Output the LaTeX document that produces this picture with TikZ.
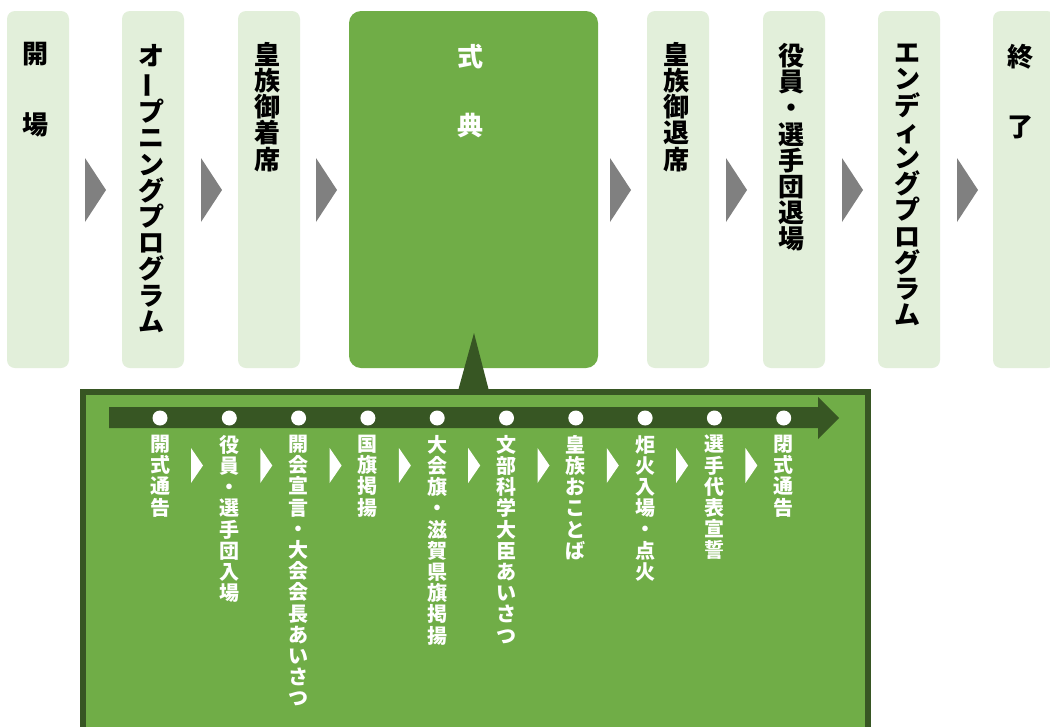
\documentclass[tikz,border=0pt]{standalone}
\usepackage{fontspec}
\newfontfamily\jp{Noto Sans CJK JP}
\definecolor{lg}{HTML}{E2EFDA}
\definecolor{mg}{HTML}{70AD47}
\definecolor{dg}{HTML}{375623}
\definecolor{ga}{HTML}{808080}
\newcommand{\vbar}{\rotatebox[origin=c]{90}{ー}}
\tikzset{
  stage/.style={fill=lg, draw=none, rounded corners=8pt, anchor=north west,
    minimum width=62pt, minimum height=357pt, inner sep=0pt, outer sep=0pt},
  mainstage/.style={fill=mg, draw=none, rounded corners=12pt, anchor=north west,
    minimum width=249pt, minimum height=357pt, inner sep=0pt, outer sep=0pt},
  toptext/.style={font=\jp\bfseries\fontsize{26}{26.2}\selectfont, align=center,
    anchor=north, inner sep=0pt, text=black},
  single/.style={font=\jp\bfseries\fontsize{26}{26.2}\selectfont, inner sep=0pt},
  subtext/.style={font=\jp\bfseries\fontsize{20}{21.2}\selectfont, align=center,
    anchor=north, inner sep=0pt, text=white},
  grayarrow/.style={fill=ga},
  whitearrow/.style={fill=white},
  panel/.style={draw=dg, line width=6pt, fill=mg, anchor=north west,
    minimum width=785pt, minimum height=380pt, inner sep=0pt, outer sep=0pt},
  dot/.style={circle, fill=white, minimum size=15pt, inner sep=0pt},
}
\begin{document}
\begin{tikzpicture}[x=1pt,y=-1pt]
\clip (0,0) rectangle (1050,726);
\fill[white] (0,0) rectangle (1050,726);
% top stages
\node[stage] (b1) at (7,11) {};
\node[stage] (b2) at (122,11) {};
\node[stage] (b3) at (238,11) {};
\node[mainstage] (b4) at (349,11) {};
\node[stage] (b5) at (647,11) {};
\node[stage] (b6) at (763,11) {};
\node[stage] (b7) at (878,11) {};
\node[stage] (b8) at (993,11) {};
% top texts
\node[single] (t1a) at (35,54) {開};
\node[single] (t1b) at (35,125) {場};
\node[toptext] (t2) at (151,44) {オ\\\vbar\\プ\\ニ\\ン\\グ\\プ\\ロ\\グ\\ラ\\ム};
\node[toptext] (t3) at (267,42) {皇\\族\\御\\着\\席};
\node[single, text=white] (t4a) at (470,57) {式};
\node[single, text=white] (t4b) at (470,126) {典};
\node[toptext] (t5) at (676,42) {皇\\族\\御\\退\\席};
\node[toptext] (t6) at (791,43) {役\\員\\・\\選\\手\\団\\退\\場};
\node[toptext] (t7) at (907,44) {エ\\ン\\デ\\ィ\\ン\\グ\\プ\\ロ\\グ\\ラ\\ム};
\node[single] (t8a) at (1020,57) {終};
\node[single] (t8b) at (1020,127) {了};
% gray arrows
\foreach \x in {85,201,316,610,726,842,957}
  \fill[grayarrow] (\x,158) -- (\x+21,190) -- (\x,222) -- cycle;
% panel
\node[panel] (panel) at (82.5,391.5) {};
% callout triangle
\coordinate (apex) at (474,333);
\fill[dg] (458,391) -- (apex) -- (489,391) -- cycle;
% timeline arrow
\fill[dg] (109,407) -- (818,407) -- (818,397) -- (839,418) -- (818,439) -- (818,428) -- (109,428) -- cycle;
% dots and labels
\foreach \t [count=\i] in {
  {開\\式\\通\\告},
  {役\\員\\・\\選\\手\\団\\入\\場},
  {開\\会\\宣\\言\\・\\大\\会\\会\\長\\あ\\い\\さ\\つ},
  {国\\旗\\掲\\揚},
  {大\\会\\旗\\・\\滋\\賀\\県\\旗\\掲\\揚},
  {文\\部\\科\\学\\大\\臣\\あ\\い\\さ\\つ},
  {皇\\族\\お\\こ\\と\\ば},
  {炬\\火\\入\\場\\・\\点\\火},
  {選\\手\\代\\表\\宣\\誓},
  {閉\\式\\通\\告}}{
  \node[dot] (d\i) at ({160+69.3*(\i-1)},418) {};
  \node[subtext] (s\i) at ({160+69.3*(\i-1)},435) {\t};
}
\foreach \i in {1,...,9}
  \fill[whitearrow] ({160+69.3*(\i-1)+31},448) -- ({160+69.3*(\i-1)+43},465.5) -- ({160+69.3*(\i-1)+31},483) -- cycle;
\end{tikzpicture}
\end{document}
